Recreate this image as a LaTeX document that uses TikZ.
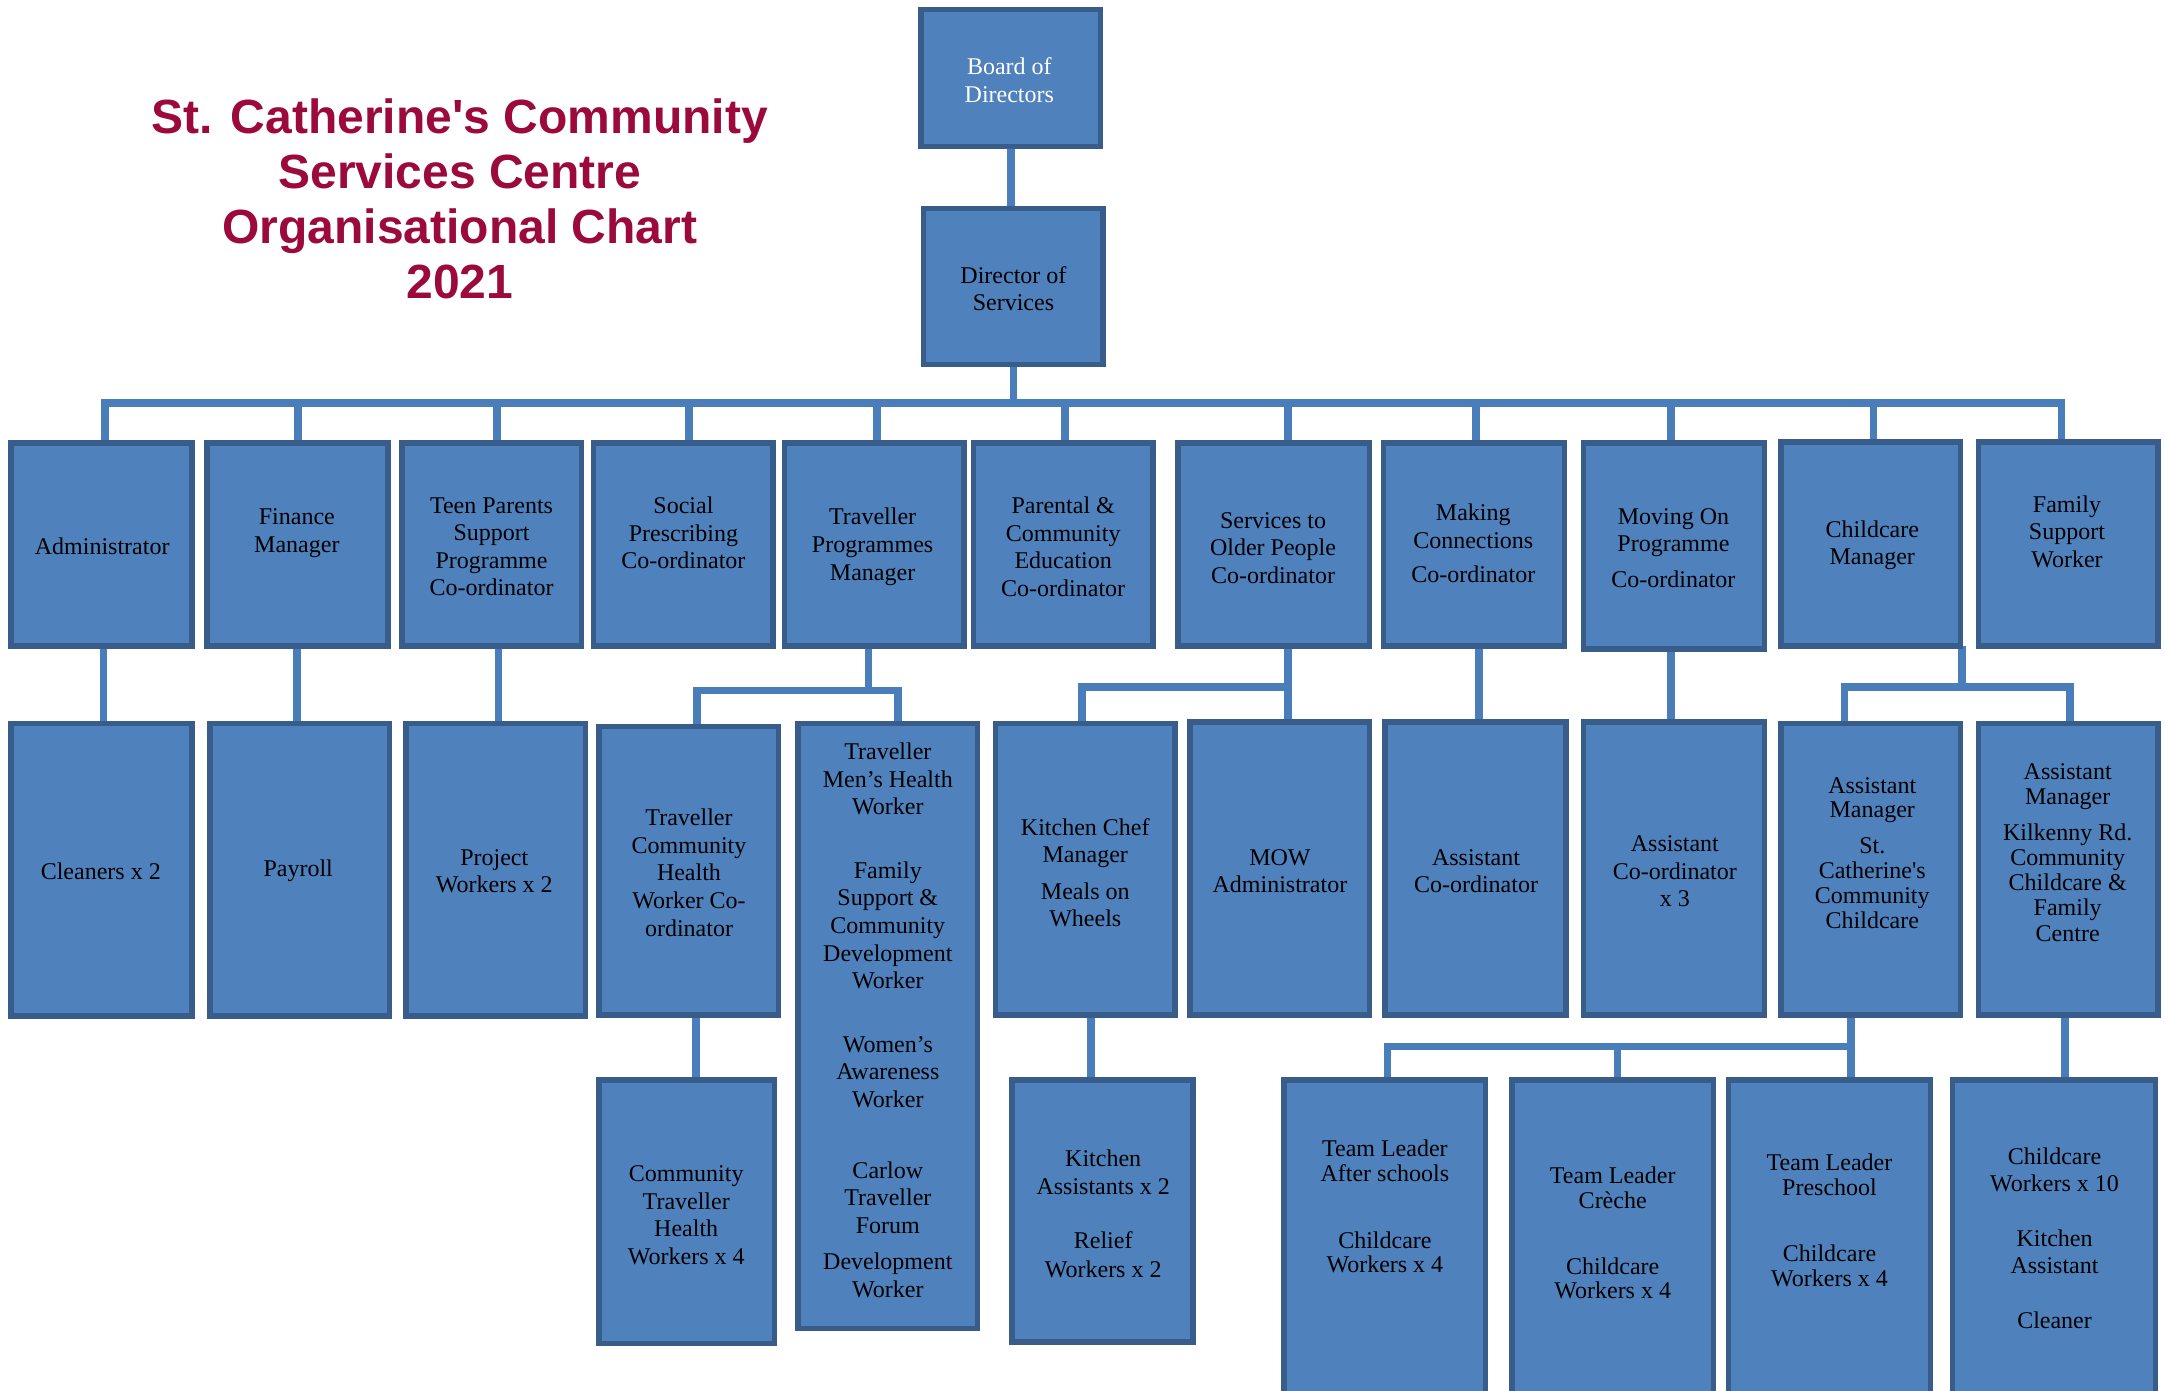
\documentclass[tikz,border=0pt]{standalone}
\usepackage{fontspec}
\setmainfont{Liberation Serif}
\newfontfamily\titlefont{Liberation Sans}
\usetikzlibrary{calc}
\pgfdeclarelayer{background}
\pgfsetlayers{background,main}
\definecolor{boxfill}{HTML}{4F81BD}
\definecolor{boxedge}{HTML}{385D8A}
\definecolor{connc}{HTML}{4A7EBB}
\definecolor{titlec}{HTML}{9C0A3C}
\tikzset{
  orgbox/.style={draw=boxedge, fill=boxfill, line width=2.75pt, inner sep=0pt, outer sep=0pt, rectangle},
  txt/.style={align=center, inner sep=0pt, outer sep=0pt, font=\fontsize{12}{13.8}\selectfont, text=black},
  tight/.style={font=\fontsize{12}{12.4}\selectfont},
  conn/.style={draw=connc, line width=3.8pt, line join=miter},
  titletxt/.style={align=center, inner sep=0pt, text=titlec, font=\titlefont\bfseries\fontsize{24}{27.6}\selectfont}
}
\newcommand\mkbox[5]{%
  \node[orgbox, minimum width={(#4-#2-4)*0.69035}, minimum height={(#5-#3-4)*0.69035}] (#1) at ({(#2+#4)/2},{(#3+#5)/2}) {};}
\begin{document}
\begin{tikzpicture}[x=0.69035pt,y=-0.69035pt]
\useasboundingbox (0,0) rectangle (1568,1007);
% title
\node[titletxt] (title) at (333,144) {St. Catherine\textquotesingle s Community\\Services Centre\\Organisational Chart\\2021};
% boxes
\mkbox{board}{665}{5}{799}{108}
\mkbox{dir}{667}{149}{801}{266}
\mkbox{adm}{6}{319}{141}{470}
\mkbox{fin}{148}{319}{283}{470}
\mkbox{teen}{289}{319}{423}{470}
\mkbox{soc}{428}{319}{562}{470}
\mkbox{tpm}{566}{319}{700}{470}
\mkbox{par}{703}{319}{837}{470}
\mkbox{sop}{851}{319}{994}{470}
\mkbox{mc}{1000}{319}{1135}{470}
\mkbox{mo}{1145}{319}{1280}{472}
\mkbox{ccm}{1288}{318}{1422}{470}
\mkbox{fsw}{1431}{318}{1565}{470}
\mkbox{cln}{6}{522}{141}{738}
\mkbox{pay}{150}{522}{284}{738}
\mkbox{pw}{292}{522}{426}{738}
\mkbox{tch}{432}{524}{566}{737}
\mkbox{tmh}{576}{522}{710}{964}
\mkbox{kcm}{719}{522}{853}{737}
\mkbox{mow}{860}{521}{994}{737}
\mkbox{aco}{1001}{521}{1136}{737}
\mkbox{acot}{1145}{521}{1280}{737}
\mkbox{ams}{1288}{522}{1422}{737}
\mkbox{amk}{1431}{522}{1565}{737}
\mkbox{cth}{432}{780}{563}{975}
\mkbox{ka}{731}{780}{866}{974}
\begin{scope}
\clip (0,0) rectangle (1568,1007);
\mkbox{tla}{928}{780}{1078}{1030}
\mkbox{tlc}{1093}{780}{1243}{1030}
\mkbox{tlp}{1250}{780}{1400}{1030}
\mkbox{cwt}{1412}{780}{1563}{1030}
\end{scope}
% texts
\node[txt,text=white] (boardT) at (731,58) {Board of\\Directors};
\node[txt] (dirT) at (734,209) {Director of\\Services};
\node[txt] (admT) at (74,396) {Administrator};
\node[txt] (finT) at (215,386) {Finance\\Manager};
\node[txt] (teenT) at (356,396) {Teen Parents\\Support\\Programme\\Co-ordinator};
\node[txt] (socT) at (495,386) {Social\\Prescribing\\Co-ordinator};
\node[txt] (tpmT) at (632,396) {Traveller\\Programmes\\Manager};
\node[txt] (parT) at (770,396) {Parental \&\\Community\\Education\\Co-ordinator};
\node[txt] (sopT) at (922,397) {Services to\\Older People\\Co-ordinator};
\node[txt] (mcT) at (1067,393.5) {Making\\Connections\\[3.5pt]Co-ordinator};
\node[txt] (moT) at (1212,397) {Moving On\\Programme\\[4pt]Co-ordinator};
\node[txt] (ccmT) at (1356,395) {Childcare\\Manager};
\node[txt] (fswT) at (1497,385) {Family\\Support\\Worker};
\node[txt] (clnT) at (73,631) {Cleaners x 2};
\node[txt] (payT) at (216,631) {Payroll};
\node[txt] (pwT) at (358,631) {Project\\Workers x 2};
\node[txt] (tchT) at (499,632) {Traveller\\Community\\Health\\Worker Co-\\ordinator};
\node[txt] (tmhT) at (643,739) {Traveller\\Men’s Health\\Worker\\[18pt]Family\\Support \&\\Community\\Development\\Worker\\[18pt]Women’s\\Awareness\\Worker\\[21.6pt]Carlow\\Traveller\\Forum\\[4.4pt]Development\\Worker};
\node[txt] (kcmT) at (786,632) {Kitchen Chef\\Manager\\[4.3pt]Meals on\\Wheels};
\node[txt] (mowT) at (927,631) {MOW\\Administrator};
\node[txt] (acoT) at (1069,631) {Assistant\\Co-ordinator};
\node[txt] (acotT) at (1213,631) {Assistant\\Co-ordinator\\x 3};
\node[txt,tight] (amsT) at (1356,617.7) {Assistant\\Manager\\[5.6pt]St.\\Catherine\textquotesingle s\\Community\\Childcare};
\node[txt,font=\fontsize{12}{12.6}\selectfont] (amkT) at (1497.5,617.4) {Assistant\\Manager\\[5.2pt]Kilkenny Rd.\\Community\\Childcare \&\\Family\\Centre};
\node[txt] (cthT) at (497,880) {Community\\Traveller\\Health\\Workers x 4};
\node[txt,font=\fontsize{12}{14.2}\selectfont] (kaT) at (799,879) {Kitchen\\Assistants x 2\\[12.8pt]Relief\\Workers x 2};
\node[txt,tight] (tlaT) at (1003,874) {Team Leader\\After schools\\[20.8pt]Childcare\\Workers x 4};
\node[txt,tight] (tlcT) at (1168,893) {Team Leader\\Crèche\\[20.5pt]Childcare\\Workers x 4};
\node[txt,tight] (tlpT) at (1325,884) {Team Leader\\Preschool\\[20.7pt]Childcare\\Workers x 4};
\node[txt,font=\fontsize{12}{13.5}\selectfont] (cwtT) at (1488,897) {Childcare\\Workers x 10\\[14pt]Kitchen\\Assistant\\[14pt]Cleaner};
% connectors
\begin{pgfonlayer}{background}
\fill[white] (0,0) rectangle (1568,1007);
\coordinate (bus) at (733,291.7);
\coordinate (b1) at (76,291.7);
\coordinate (b2) at (216,291.7);
\coordinate (b3) at (360,291.7);
\coordinate (b4) at (499,291.7);
\coordinate (b5) at (635,291.7);
\coordinate (b6) at (771.5,291.7);
\coordinate (b7) at (933,291.7);
\coordinate (b8) at (1069,291.7);
\coordinate (b9) at (1210,291.7);
\coordinate (b10) at (1357,291.7);
\coordinate (b11) at (1493,291.7);
\draw[conn] (board.south) -- (board.south |- dir.north);
\draw[conn] (dir.south) -- (dir.south |- bus);
\draw[conn] (b1 |- adm.north) -- (b1) -- (b11) -- (b11 |- fsw.north);
\draw[conn] (b2) -- (b2 |- fin.north);
\draw[conn] (b3) -- (b3 |- teen.north);
\draw[conn] (b4) -- (b4 |- soc.north);
\draw[conn] (b5) -- (b5 |- tpm.north);
\draw[conn] (b6) -- (b6 |- par.north);
\draw[conn] (b7) -- (b7 |- sop.north);
\draw[conn] (b8) -- (b8 |- mc.north);
\draw[conn] (b9) -- (b9 |- mo.north);
\draw[conn] (b10) -- (b10 |- ccm.north);
% row1 -> row2
\coordinate (x1) at (75,0);
\coordinate (x2) at (215,0);
\coordinate (x3) at (361,0);
\coordinate (x4) at (1071,0);
\coordinate (x5) at (1210,0);
\draw[conn] (adm.south -| x1) -- (cln.north -| x1);
\draw[conn] (fin.south -| x2) -- (pay.north -| x2);
\draw[conn] (teen.south -| x3) -- (pw.north -| x3);
\draw[conn] (mc.south -| x4) -- (aco.north -| x4);
\draw[conn] (mo.south -| x5) -- (acot.north -| x5);
\coordinate (jT) at (629,500);
\coordinate (jTl) at (505,500);
\coordinate (jTr) at (650.5,500);
\draw[conn] (tpm.south -| jT) -- (jT);
\draw[conn] (tch.north -| jTl) -- (jTl) -- (jTr) -- (tmh.north -| jTr);
\coordinate (jS) at (933,497.5);
\coordinate (jSl) at (783.6,497.5);
\draw[conn] (sop.south -| jS) -- (jS);
\draw[conn] (kcm.north -| jSl) -- (jSl) -- (jS) -- (mow.north -| jS);
\coordinate (jC) at (1421,497.5);
\coordinate (jCl) at (1336,497.5);
\coordinate (jCr) at (1499,497.5);
\draw[conn] (ccm.south -| jC) -- (jC);
\draw[conn] (ams.north -| jCl) -- (jCl) -- (jCr) -- (amk.north -| jCr);
% row2 -> row3
\coordinate (x6) at (504,0);
\coordinate (x7) at (790,0);
\coordinate (x8) at (1495.5,0);
\draw[conn] (tch.south -| x6) -- (cth.north -| x6);
\draw[conn] (kcm.south -| x7) -- (ka.north -| x7);
\draw[conn] (amk.south -| x8) -- (cwt.north -| x8);
\coordinate (jA) at (1340.6,758);
\coordinate (jAl) at (1005,758);
\coordinate (jAm) at (1171.5,758);
\draw[conn] (ams.south -| jA) -- (jA) -- (jAl) -- (tla.north -| jAl);
\draw[conn] (jAm) -- (tlc.north -| jAm);
\draw[conn] (jA) -- (tlp.north -| jA);
\end{pgfonlayer}
\end{tikzpicture}
\end{document}
